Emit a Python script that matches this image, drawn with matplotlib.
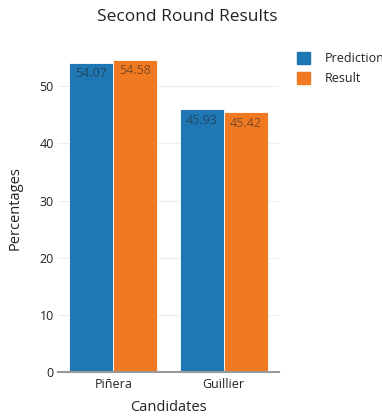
import matplotlib.pyplot as plt
import numpy as np
from matplotlib.patches import Rectangle

plt.rcParams["font.family"] = ["Open Sans", "DejaVu Sans"]

candidates = ["Piñera", "Guillier"]
prediction = [54.07, 45.93]
result = [54.58, 45.42]
series_names = ["Prediction", "Result"]
colors = ["#1f77b4", "#f07a22"]

fig = plt.figure(figsize=(3.82, 4.18), dpi=100)
ax = fig.add_axes([0.152, 0.110, 0.578, 0.785])

x = np.arange(len(candidates))
width = 0.4
for i, (vals, c) in enumerate(zip([prediction, result], colors)):
    pos = x + (i - 0.5) * width
    bars = ax.bar(pos, vals, width, color=c, edgecolor="white", linewidth=0.6,
                  zorder=3)
    for b, v in zip(bars, vals):
        ax.annotate(f"{v:.2f}", (b.get_x() + b.get_width() / 2, v),
                    xytext=(0, -3), textcoords="offset points",
                    ha="center", va="top", fontsize=9,
                    color="#222222", alpha=0.55, zorder=4)

ax.set_xlim(-0.5, 1.5)
ax.set_ylim(0, 57.4)
ax.set_xticks(x)
ax.set_xticklabels(candidates, fontsize=9, color="#222222")
ax.set_yticks(range(0, 51, 10))
ax.tick_params(axis="y", labelsize=9, labelcolor="#222222", length=0, pad=3)
ax.tick_params(axis="x", length=0, pad=4)
ax.grid(axis="y", color="#eeeeee", linewidth=0.8, zorder=0)
for s in ax.spines.values():
    s.set_visible(False)
ax.axhline(0, color="#999999", linewidth=1.5, zorder=5, clip_on=False)

ax.set_xlabel("Candidates", fontsize=10.5, color="#222222", labelpad=7)
ax.set_ylabel("Percentages", fontsize=10.5, color="#222222", labelpad=12)
fig.text(0.49, 1 - 17 / 418, "Second Round Results", ha="center", va="center",
         fontsize=12.5, color="#222222")

# legend drawn by hand so the text can run off the right edge
for i, (name, c) in enumerate(zip(series_names, colors)):
    y = 1 - (58 + 20 * i) / 418
    fig.patches.append(Rectangle((297 / 382, y - 6 / 418), 13 / 382, 12 / 418,
                                 transform=fig.transFigure, color=c))
    fig.text(325 / 382, y, name, ha="left", va="center", fontsize=9,
             color="#222222")

fig.savefig("out.png", dpi=100)
